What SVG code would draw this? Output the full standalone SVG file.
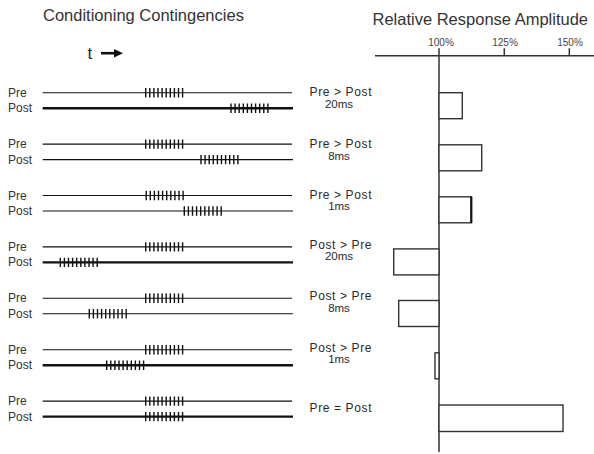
<svg xmlns="http://www.w3.org/2000/svg" xmlns:xlink="http://www.w3.org/1999/xlink" width="594" height="454" viewBox="0 0 594 454">
<style>
text{font-family:"Liberation Sans",Arial,sans-serif;fill:#2a2a2a}
.title{font-size:16.5px;fill:#333}
.lab{font-size:12px;fill:#333}
.cond{font-size:12px;text-anchor:middle}
.ms{font-size:11.5px;text-anchor:middle}
.tick{font-size:10px;text-anchor:middle;fill:#444}
.thin{stroke:#111;stroke-width:1.1;fill:none}
.thick{stroke:#111;stroke-width:2.4;fill:none}
.bar{fill:#fff;stroke:#333;stroke-width:1.4}
.axis{stroke:#333;stroke-width:1.5;fill:none}
</style>
<defs>
<g id="train" stroke="#111" stroke-width="1.4">
<path d="M0,-4.7V4.7M4.1,-4.7V4.7M8.2,-4.7V4.7M12.3,-4.7V4.7M16.4,-4.7V4.7M20.5,-4.7V4.7M24.6,-4.7V4.7M28.7,-4.7V4.7M32.8,-4.7V4.7M36.9,-4.7V4.7"/>
</g>
</defs>
<text class="title" x="43" y="21">Conditioning Contingencies</text>
<text class="title" x="372.5" y="25">Relative Response Amplitude</text>
<g id="time-arrow">
<text x="87.5" y="58.5" style="font-size:17px">t</text>
<path d="M101,53.2H116" stroke="#111" stroke-width="2.6"/>
<path d="M114,49L123,53.2L114,57.4Z" fill="#111"/>
</g>
<g id="axis">
<path class="axis" d="M375,55.7H594M439,48.3V452M504.3,48.3V55.7M569.3,48.3V55.7"/>
<text class="tick" x="441" y="45.5">100%</text>
<text class="tick" x="505" y="45.5">125%</text>
<text class="tick" x="570" y="45.5">150%</text>
</g>
<g id="row1">
<text class="lab" x="8" y="96.7">Pre</text><text class="lab" x="8" y="112.2">Post</text>
<path class="thin" d="M42.7,92.7H292"/><path class="thick" d="M42.7,108.2H293"/>
<use xlink:href="#train" x="145.7" y="92.7"/><use xlink:href="#train" x="231" y="108.2"/>
<text class="cond" x="340.5" y="96.2" textLength="62">Pre &gt; Post</text><text class="ms" x="339" y="107.8">20ms</text>
<rect class="bar" x="439" y="92.7" width="23.3" height="26"/>
</g>
<g id="row2">
<text class="lab" x="8" y="148.1">Pre</text><text class="lab" x="8" y="163.6">Post</text>
<path class="thin" d="M42.7,144.1H292"/><path class="thin" d="M42.7,159.6H293"/>
<use xlink:href="#train" x="145.7" y="144.1"/><use xlink:href="#train" x="201" y="159.6"/>
<text class="cond" x="340.5" y="147.8" textLength="62">Pre &gt; Post</text><text class="ms" x="339" y="159.5">8ms</text>
<rect class="bar" x="439" y="144.8" width="42.7" height="26"/>
</g>
<g id="row3">
<text class="lab" x="8" y="199.5">Pre</text><text class="lab" x="8" y="215">Post</text>
<path class="thin" d="M42.7,195.5H292"/><path class="thin" d="M42.7,211H293"/>
<use xlink:href="#train" x="146.2" y="195.5"/><use xlink:href="#train" x="184.3" y="211"/>
<text class="cond" x="340.5" y="198.5" textLength="62">Pre &gt; Post</text><text class="ms" x="339" y="210.2">1ms</text>
<rect class="bar" x="439" y="196.8" width="32.3" height="26"/>
<path d="M471.3,196.8V222.8" stroke="#111" stroke-width="2.2"/>
</g>
<g id="row4">
<text class="lab" x="8" y="250.9">Pre</text><text class="lab" x="8" y="266.4">Post</text>
<path class="thin" d="M42.7,246.9H292"/><path class="thick" d="M42.7,262.4H293"/>
<use xlink:href="#train" x="145.7" y="246.9"/><use xlink:href="#train" x="60.3" y="262.4"/>
<text class="cond" x="340.5" y="248.5" textLength="62">Post &gt; Pre</text><text class="ms" x="339" y="260.2">20ms</text>
<rect class="bar" x="393.7" y="248.9" width="45.3" height="26"/>
</g>
<g id="row5">
<text class="lab" x="8" y="302.3">Pre</text><text class="lab" x="8" y="317.8">Post</text>
<path class="thin" d="M42.7,298.3H292"/><path class="thin" d="M42.7,313.8H293"/>
<use xlink:href="#train" x="145.7" y="298.3"/><use xlink:href="#train" x="89.3" y="313.8"/>
<text class="cond" x="340.5" y="300" textLength="62">Post &gt; Pre</text><text class="ms" x="339" y="311.7">8ms</text>
<rect class="bar" x="398.7" y="300.5" width="40.3" height="26"/>
</g>
<g id="row6">
<text class="lab" x="8" y="353.7">Pre</text><text class="lab" x="8" y="369.2">Post</text>
<path class="thin" d="M42.7,349.7H292"/><path class="thick" d="M42.7,365.2H293"/>
<use xlink:href="#train" x="145.7" y="349.7"/><use xlink:href="#train" x="106.7" y="365.2"/>
<text class="cond" x="340.5" y="351.5" textLength="62">Post &gt; Pre</text><text class="ms" x="339" y="363.2">1ms</text>
<rect class="bar" x="435" y="352.8" width="4" height="26"/>
</g>
<g id="row7">
<text class="lab" x="8" y="405.1">Pre</text><text class="lab" x="8" y="420.6">Post</text>
<path class="thin" d="M42.7,401.1H292"/><path class="thick" d="M42.7,416.6H293"/>
<use xlink:href="#train" x="145.7" y="401.1"/><use xlink:href="#train" x="145.7" y="416.6"/>
<text class="cond" x="340.5" y="411.5" textLength="62">Pre = Post</text>
<rect class="bar" x="439" y="405" width="124" height="26.5"/>
</g>
</svg>
